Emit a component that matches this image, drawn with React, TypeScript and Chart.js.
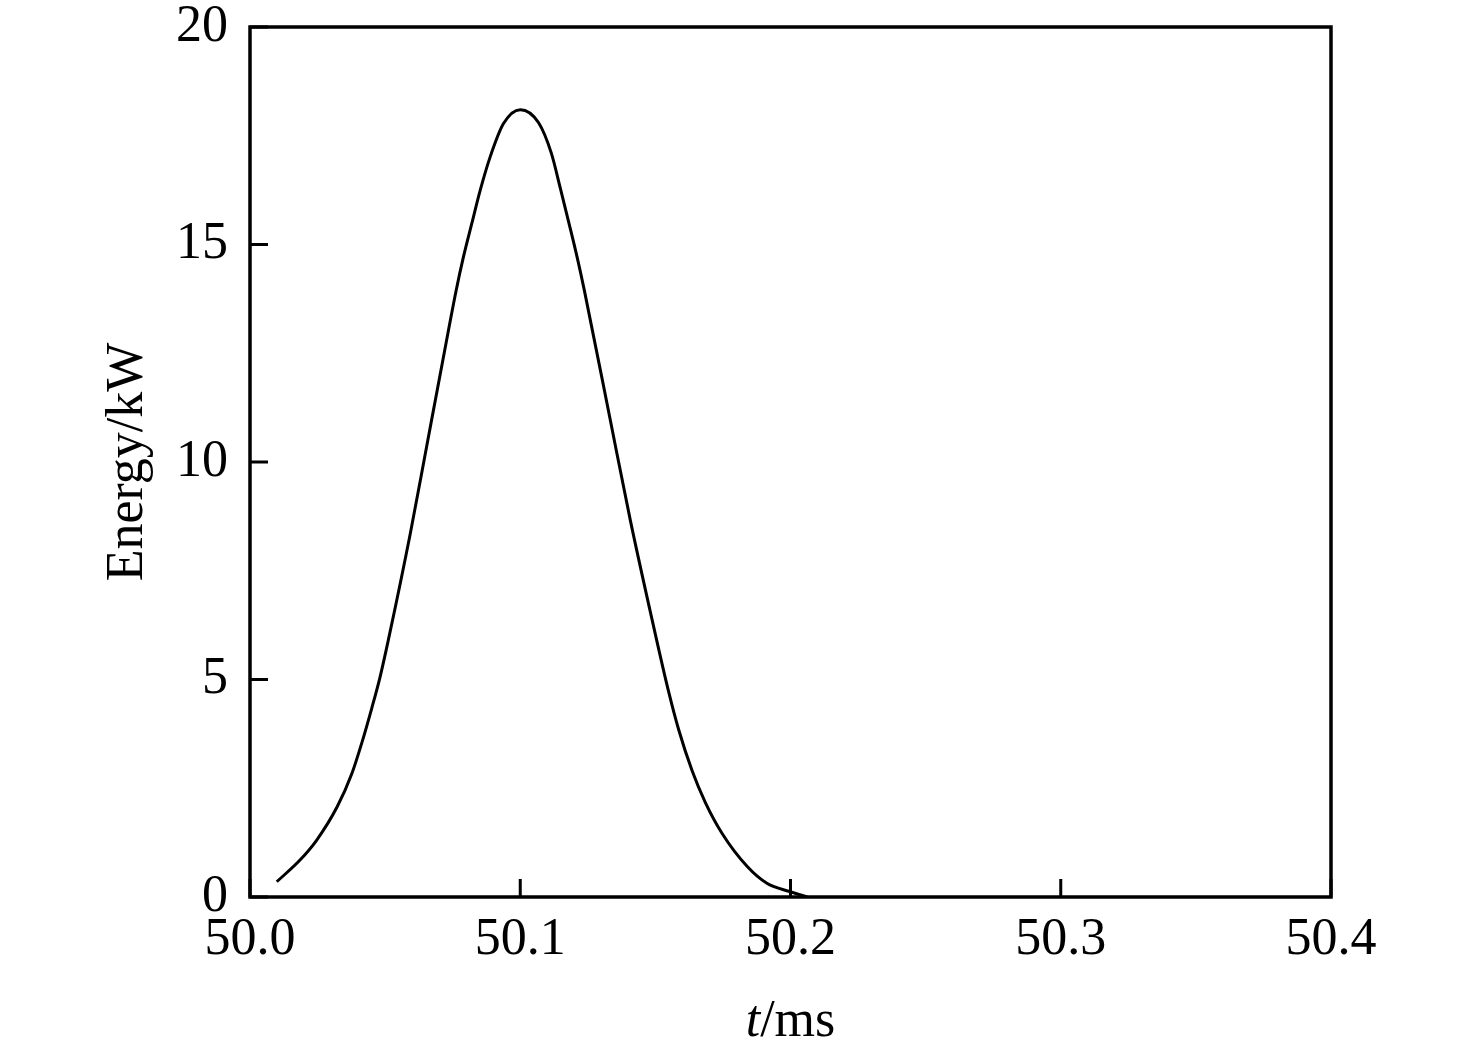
import React, { useEffect, useRef } from "react";
import { Chart, registerables } from "chart.js";

Chart.register(...registerables);

const timeMs: number[] = [
  50.0099, 50.0185, 50.0247, 50.0323, 50.0377, 50.0414, 50.0451, 50.0481, 50.0512,
  50.0593, 50.0654, 50.0716, 50.0763, 50.079, 50.0821, 50.0852, 50.0889, 50.0938,
  50.1,
  50.1068, 50.1115, 50.1148, 50.1179, 50.121, 50.1237, 50.1333, 50.1407, 50.1488,
  50.1549, 50.1586, 50.1636, 50.1685, 50.1747, 50.184, 50.1914, 50.2, 50.2062,
];
const energyKW: number[] = [
  0.35, 0.85, 1.31, 2.08, 2.84, 3.55, 4.35, 5.05, 5.91,
  8.35, 10.37, 12.42, 13.95, 14.72, 15.49, 16.25, 17.02, 17.78,
  18.1,
  17.8, 17.1, 16.3, 15.52, 14.72, 13.95, 10.97, 8.67, 6.37,
  4.72, 3.85, 2.9, 2.17, 1.46, 0.7, 0.31, 0.12, 0.0,
];
const xTickValues: number[] = [50.0, 50.1, 50.2, 50.3, 50.4];
const yTickValues: number[] = [0, 5, 10, 15, 20];
const yTitle = "Energy/kW";
const xTitleItalic = "t";
const xTitleRest = "/ms";

const FONT = "'Liberation Serif', 'Times New Roman', serif";

const framePlugin = {
  id: "frameAndTitles",
  afterDraw(chart: any) {
    const { ctx, chartArea } = chart;
    const xs = chart.scales.x;
    const ys = chart.scales.y;
    ctx.save();
    ctx.strokeStyle = "#000";
    ctx.lineWidth = 3.5;
    ctx.strokeRect(chartArea.left, chartArea.top, chartArea.right - chartArea.left, chartArea.bottom - chartArea.top);
    const tl = 18;
    ctx.lineWidth = 3;
    ctx.beginPath();
    xTickValues.forEach((v) => {
      const px = xs.getPixelForValue(v);
      ctx.moveTo(px, chartArea.bottom);
      ctx.lineTo(px, chartArea.bottom - tl);
    });
    yTickValues.forEach((v) => {
      const py = ys.getPixelForValue(v);
      ctx.moveTo(chartArea.left, py);
      ctx.lineTo(chartArea.left + tl, py);
    });
    ctx.stroke();

    ctx.fillStyle = "#000";
    ctx.textBaseline = "alphabetic";
    ctx.textAlign = "left";
    const italicFont = `italic 52px ${FONT}`;
    const normalFont = `52px ${FONT}`;
    ctx.font = italicFont;
    const w1 = ctx.measureText(xTitleItalic).width;
    ctx.font = normalFont;
    const w2 = ctx.measureText(xTitleRest).width;
    const cx = (chartArea.left + chartArea.right) / 2;
    const startX = cx - (w1 + w2) / 2;
    ctx.font = italicFont;
    ctx.fillText(xTitleItalic, startX, 1036);
    ctx.font = normalFont;
    ctx.fillText(xTitleRest, startX + w1, 1036);

    ctx.save();
    ctx.translate(142, (chartArea.top + chartArea.bottom) / 2);
    ctx.rotate(-Math.PI / 2);
    ctx.textAlign = "center";
    ctx.font = normalFont;
    ctx.fillText(yTitle, 0, 0);
    ctx.restore();
    ctx.restore();
  },
};

export default function App() {
  const ref = useRef<HTMLCanvasElement | null>(null);
  useEffect(() => {
    if (!ref.current) return;
    const chart = new Chart(ref.current, {
      type: "line",
      data: {
        datasets: [
          {
            data: timeMs.map((t, i) => ({ x: t, y: energyKW[i] })),
            borderColor: "#000",
            borderWidth: 3,
            pointRadius: 0,
            fill: false,
            cubicInterpolationMode: "monotone",
          },
        ],
      },
      options: {
        responsive: false,
        animation: false,
        layout: { padding: { left: 0, right: 145, top: 27, bottom: 0 } },
        plugins: { legend: { display: false }, tooltip: { enabled: false }, title: { display: false } },
        scales: {
          x: {
            type: "linear",
            min: 50.0,
            max: 50.4,
            afterBuildTicks: (axis: any) => {
              axis.ticks = xTickValues.map((v) => ({ value: v }));
            },
            afterFit: (axis: any) => {
              axis.height = 1055 - 897;
              axis.paddingLeft = 0;
              axis.paddingRight = 0;
            },
            grid: { display: false, drawTicks: false },
            border: { display: false },
            ticks: {
              color: "#000",
              font: { family: FONT, size: 52 },
              padding: 12,
              maxRotation: 0,
              callback: (v: any) => Number(v).toFixed(1),
            },
          },
          y: {
            type: "linear",
            min: 0,
            max: 20,
            afterBuildTicks: (axis: any) => {
              axis.ticks = yTickValues.map((v) => ({ value: v }));
            },
            afterFit: (axis: any) => {
              axis.width = 250;
              axis.paddingTop = 0;
              axis.paddingBottom = 0;
            },
            grid: { display: false, drawTicks: false },
            border: { display: false },
            ticks: {
              color: "#000",
              font: { family: FONT, size: 52 },
              padding: 22,
              callback: (v: any) => String(v),
            },
          },
        },
      },
      plugins: [framePlugin],
    } as any);
    return () => chart.destroy();
  }, []);
  return (
    <div style={{ position: "fixed", left: 0, top: 0, width: 1476, height: 1055, background: "#fff" }}>
      <canvas ref={ref} width={1476} height={1055} style={{ width: 1476, height: 1055 }} />
    </div>
  );
}
